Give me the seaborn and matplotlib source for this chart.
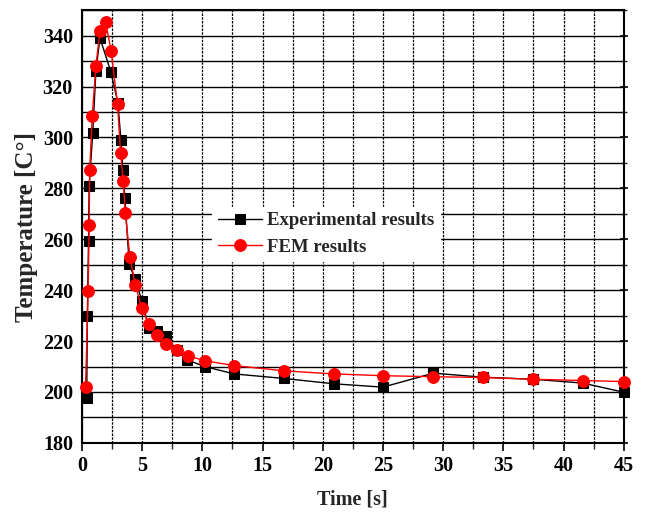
import matplotlib
matplotlib.use("Agg")
import matplotlib.pyplot as plt
import seaborn as sns
import pandas as pd
from matplotlib.ticker import MultipleLocator

# Data
exp_time = [0.4, 0.45, 0.55, 0.6, 0.9, 1.16, 1.5, 2.4, 2.99, 3.24, 3.4, 3.57,
            3.93, 4.4, 4.98, 5.56, 6.25, 6.98, 7.86, 8.75, 10.2, 12.65, 16.8,
            20.96, 25.0, 29.2, 33.3, 37.5, 41.6, 45.0]
exp_temp = [197.7, 229.9, 259.4, 280.9, 301.8, 326.2, 339.1, 325.8, 313.6, 299.0,
            287.3, 276.3, 250.1, 244.5, 235.9, 225.1, 224.1, 222.0, 216.5, 212.6,
            210.0, 207.1, 205.3, 203.2, 201.9, 207.4, 205.8, 205.0, 203.5, 199.9]

fem_time = [0.3, 0.52, 0.6, 0.65, 0.86, 1.16, 1.5, 1.97, 2.43, 2.96, 3.21, 3.43,
            3.6, 3.99, 4.43, 4.98, 5.56, 6.25, 6.98, 7.86, 8.83, 10.2, 12.6, 16.8,
            20.9, 25.0, 29.2, 33.3, 37.5, 41.6, 45.0]
fem_temp = [202.1, 239.8, 265.7, 287.3, 308.6, 328.1, 341.9, 345.5, 333.8, 313.1,
            294.1, 283.0, 270.3, 253.0, 242.1, 232.9, 226.8, 222.3, 218.9, 216.3,
            214.2, 212.3, 210.4, 208.3, 207.1, 206.4, 206.0, 205.7, 205.0, 204.5, 204.1]

labels = ["Experimental results", "FEM results"]
xticks = list(range(0, 46, 5))
yticks = list(range(180, 341, 20))

sns.set_style("white")
plt.rcParams['font.family'] = ['Liberation Serif', 'DejaVu Serif']
plt.rcParams['font.weight'] = 'bold'

fig = plt.figure(figsize=(6.45, 5.12), dpi=100)
ax = fig.add_axes([0.127, 0.135, 0.840, 0.845])

df_exp = pd.DataFrame({"t": exp_time, "T": exp_temp})
df_fem = pd.DataFrame({"t": fem_time, "T": fem_temp})

sns.lineplot(data=df_exp, x="t", y="T", ax=ax, color="black", marker="s",
             markersize=7, markeredgecolor="black", linewidth=1.0,
             label=labels[0], sort=False, clip_on=False, zorder=3)
sns.lineplot(data=df_fem, x="t", y="T", ax=ax, color="red", marker="o",
             markersize=8.5, markeredgecolor="red", linewidth=1.0,
             label=labels[1], sort=False, clip_on=False, zorder=4)

ax.set_xlim(0, 45)
ax.set_ylim(180, 350)
ax.set_xticks(xticks)
ax.set_yticks(yticks)
ax.xaxis.set_minor_locator(MultipleLocator(2.5))
ax.yaxis.set_minor_locator(MultipleLocator(10))

ax.grid(which="both", axis="y", color="black", linestyle="-", linewidth=1.0)
ax.grid(which="both", axis="x", color="black", linestyle=(0, (2, 1)), linewidth=0.9)
ax.set_axisbelow(True)

for s in ax.spines.values():
    s.set_visible(True)
    s.set_color("black")
    s.set_linewidth(1.5)

ax.tick_params(axis="both", which="major", direction="out", length=6, width=1.2,
               labelsize=14.5, colors="black")
ax.tick_params(axis="both", which="minor", direction="out", length=4, width=1.0)
ax.tick_params(axis="y", which="both", right=True, labelright=False)
ax.tick_params(axis="y", which="both", direction="inout")
ax.tick_params(axis="x", which="both", bottom=True)
for lab in ax.get_xticklabels() + ax.get_yticklabels():
    lab.set_fontweight("bold")

ax.set_xlabel("Time [s]", fontsize=14.5, fontweight="bold", labelpad=10)
ax.set_ylabel("Temperature [C°]", fontsize=18, fontweight="bold", labelpad=3)

leg = ax.legend(loc="upper left", bbox_to_anchor=(0.223, 0.568), frameon=True,
                fancybox=False, framealpha=1.0, edgecolor="white",
                facecolor="white", fontsize=13.5, handlelength=2.35,
                handletextpad=0.3, borderpad=0.3, labelspacing=0.5)
for t in leg.get_texts():
    t.set_fontweight("bold")

fig.savefig("out.png", dpi=100)
